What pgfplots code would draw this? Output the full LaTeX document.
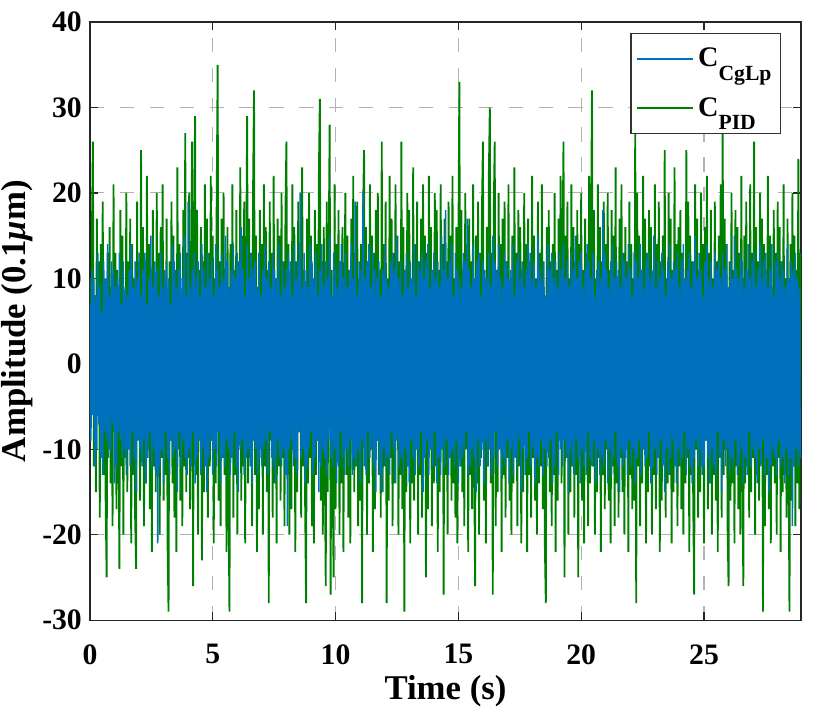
\documentclass[border=0pt]{standalone}
\usepackage{pgfplots}
\usepackage{pgfplotstable}
\pgfplotsset{compat=1.18}
\usepackage{fontspec}
\setmainfont{Liberation Serif}
\definecolor{mblue}{rgb}{0,0.447,0.741}
\definecolor{mgreen}{rgb}{0,0.5,0}

% PID response (green), one value every 0.04 s
\pgfplotstableread[row sep=\\]{
y\\
10\\-7\\15\\26\\-12\\8\\-15\\17\\-4\\12\\-18\\14\\-9\\19\\-13\\6\\-16\\-25\\13\\-10\\
16\\-14\\9\\-19\\21\\-8\\13\\-17\\11\\-6\\-24\\18\\-12\\15\\-20\\7\\-11\\20\\-15\\12\\
-9\\17\\-21\\14\\-13\\10\\-18\\-24\\19\\-7\\12\\-16\\25\\-11\\16\\-19\\8\\-14\\22\\-10\\
14\\-17\\11\\-22\\18\\-12\\9\\-15\\20\\-8\\13\\-20\\16\\-11\\21\\-16\\10\\-13\\17\\-21\\
-29\\12\\-9\\19\\-14\\15\\-18\\11\\-22\\23\\-10\\14\\-16\\8\\-19\\18\\-12\\27\\-15\\13\\
-11\\20\\-17\\9\\26\\-26\\14\\29\\-13\\18\\-20\\11\\-8\\16\\-23\\12\\-15\\21\\-10\\17\\
-18\\13\\-12\\22\\-9\\15\\-21\\10\\-14\\19\\35\\-16\\12\\-19\\17\\-11\\20\\-13\\9\\-22\\
16\\-15\\-29\\14\\-10\\21\\-18\\11\\-13\\18\\-20\\12\\-8\\23\\-16\\15\\-12\\19\\-21\\10\\
29\\-14\\17\\-11\\13\\-19\\20\\32\\-13\\15\\-22\\9\\-17\\18\\-10\\14\\-20\\21\\-12\\16\\
-15\\11\\-28\\19\\-9\\13\\-18\\22\\-14\\10\\-21\\17\\-12\\15\\-16\\20\\-11\\12\\-19\\18\\
26\\-13\\14\\-20\\9\\-17\\21\\-10\\16\\-22\\12\\-15\\19\\-8\\13\\-18\\23\\-12\\11\\-16\\
-28\\17\\-14\\20\\-11\\15\\-19\\10\\-21\\18\\-13\\14\\-9\\22\\31\\-16\\12\\-20\\16\\-10\\
-26\\19\\-15\\13\\28\\-27\\11\\-12\\-25\\21\\-17\\14\\-10\\18\\-20\\12\\-14\\16\\-22\\9\\
20\\-13\\15\\-18\\11\\-21\\17\\-9\\22\\-15\\13\\-12\\19\\-19\\10\\-16\\14\\-28\\18\\25\\
-11\\16\\-20\\12\\-14\\21\\-10\\15\\-22\\13\\-17\\18\\-9\\20\\-13\\11\\-18\\26\\-15\\14\\
-12\\19\\-28\\10\\-16\\22\\-11\\17\\-19\\13\\-14\\21\\-8\\15\\-20\\12\\-13\\26\\-17\\16\\
-29\\11\\-15\\20\\-12\\18\\-21\\9\\-14\\23\\-16\\14\\-10\\19\\-20\\12\\-13\\17\\-18\\21\\
-11\\15\\-25\\13\\-17\\22\\-9\\16\\-19\\10\\-14\\20\\-12\\18\\-22\\11\\-15\\21\\-10\\14\\
-27\\17\\-13\\12\\-20\\19\\-11\\15\\-16\\22\\-14\\10\\-18\\16\\-21\\13\\33\\-12\\18\\-15\\
11\\-19\\20\\-10\\14\\-22\\17\\-13\\12\\-17\\21\\-9\\-26\\15\\-14\\19\\-20\\13\\-11\\18\\
26\\-16\\10\\-21\\16\\-12\\22\\30\\-14\\13\\-27\\18\\26\\-19\\11\\-15\\20\\-10\\14\\-22\\
17\\-13\\19\\-18\\12\\-11\\21\\-16\\9\\-20\\15\\-14\\23\\-10\\13\\-19\\18\\-12\\16\\-21\\
11\\-15\\20\\-9\\14\\-22\\17\\-13\\12\\-18\\22\\-11\\15\\-16\\10\\-20\\19\\-14\\13\\-12\\
21\\-17\\9\\-21\\-28\\16\\-10\\18\\-15\\12\\-19\\14\\-13\\20\\-22\\11\\-16\\17\\-9\\22\\
-14\\13\\26\\-25\\15\\-11\\19\\-20\\10\\-15\\21\\-12\\16\\-18\\12\\-13\\18\\-25\\14\\-10\\
20\\-16\\11\\-21\\17\\-9\\13\\-19\\22\\-14\\15\\32\\-12\\18\\-20\\10\\-15\\21\\-11\\16\\
-22\\12\\-13\\19\\-17\\14\\-10\\20\\-16\\11\\-21\\18\\-12\\15\\-19\\23\\-14\\9\\-18\\17\\
-11\\21\\-15\\13\\-20\\16\\-9\\12\\-22\\19\\-13\\14\\-17\\10\\-16\\28\\-28\\20\\-12\\15\\
-19\\11\\-14\\22\\-10\\17\\-21\\13\\-15\\18\\-12\\16\\-20\\9\\-13\\21\\-17\\14\\-11\\19\\
-22\\12\\-16\\15\\-9\\25\\-18\\10\\-14\\20\\-13\\17\\-21\\11\\-15\\23\\-10\\14\\-19\\16\\
-12\\18\\-17\\13\\-20\\10\\-14\\25\\-11\\19\\-22\\15\\-13\\12\\-16\\-27\\21\\-10\\17\\-18\\
11\\-15\\20\\-12\\14\\-21\\16\\-9\\22\\-17\\13\\-14\\18\\-20\\10\\-13\\19\\-16\\12\\-22\\
15\\-11\\21\\-18\\28\\-13\\17\\-10\\14\\-19\\-26\\12\\-16\\20\\-14\\11\\-21\\18\\-12\\16\\
-17\\13\\-20\\22\\-9\\-26\\15\\-14\\19\\-12\\10\\-18\\21\\-15\\13\\-11\\26\\-20\\16\\-13\\
12\\-16\\20\\-10\\17\\-29\\14\\-19\\11\\-13\\22\\-17\\15\\-21\\9\\-12\\18\\-14\\13\\-20\\
19\\-11\\16\\-22\\12\\-15\\21\\-13\\10\\-18\\17\\-10\\-29\\14\\-16\\20\\-12\\15\\-19\\11\\
-14\\24\\-17\\13\\
}\greendata

% CgLp response (blue), one value every 0.04 s
\pgfplotstableread[row sep=\\]{
y\\
7\\-9\\11\\-6\\10\\-12\\8\\-10\\13\\-7\\9\\-11\\6\\-13\\12\\-8\\10\\-9\\14\\-11\\
8\\-10\\12\\-7\\11\\-14\\9\\-12\\10\\-8\\13\\-9\\7\\-11\\12\\-10\\9\\-13\\8\\-10\\
11\\-12\\14\\-8\\9\\-11\\12\\-15\\10\\-9\\13\\-10\\8\\-12\\11\\-9\\13\\-14\\7\\-11\\
10\\-8\\15\\-12\\9\\-10\\12\\-13\\11\\-21\\8\\-12\\13\\-10\\9\\-14\\11\\-8\\12\\-11\\
10\\-13\\7\\-9\\14\\-11\\12\\-10\\9\\-15\\11\\-8\\13\\-12\\10\\-9\\15\\-11\\8\\-13\\
19\\-10\\9\\-12\\11\\-8\\13\\-14\\10\\-11\\12\\-9\\8\\-13\\14\\-10\\11\\-12\\9\\-15\\
13\\-11\\10\\-9\\12\\-13\\8\\-10\\14\\-12\\11\\-8\\9\\-14\\13\\-11\\10\\-12\\15\\-9\\
12\\-10\\9\\-13\\11\\-11\\14\\-8\\10\\-12\\13\\-15\\12\\-10\\16\\-9\\11\\-13\\8\\-11\\
14\\-10\\10\\-12\\13\\-14\\11\\-9\\12\\-10\\9\\-13\\13\\-11\\8\\-12\\11\\-10\\14\\-9\\
10\\-13\\12\\-8\\9\\-11\\13\\-12\\11\\-14\\10\\-9\\14\\-11\\8\\-12\\12\\-10\\9\\-13\\
11\\-19\\13\\-10\\12\\-9\\8\\-12\\14\\-11\\10\\-13\\12\\-8\\20\\-11\\9\\-10\\13\\-14\\
11\\-12\\9\\-10\\14\\-8\\12\\-13\\10\\-11\\13\\-9\\8\\-15\\11\\-12\\14\\-10\\9\\-11\\
12\\-13\\10\\-9\\15\\-11\\8\\-12\\13\\-10\\11\\-14\\9\\-12\\12\\-8\\14\\-11\\10\\-13\\
13\\-10\\9\\-12\\11\\-9\\14\\-13\\10\\-11\\19\\-12\\8\\-10\\12\\-14\\11\\-9\\20\\-12\\
10\\-13\\12\\-8\\14\\-11\\9\\-10\\13\\-12\\11\\-15\\10\\-9\\12\\-13\\8\\-15\\11\\-10\\
14\\-12\\10\\-11\\9\\-13\\12\\-8\\13\\-10\\11\\-14\\15\\-9\\10\\-12\\12\\-11\\8\\-13\\
11\\-10\\13\\-12\\9\\-14\\12\\-9\\10\\-11\\14\\-13\\8\\-10\\12\\-12\\11\\-8\\13\\-15\\
10\\-11\\12\\-9\\14\\-13\\9\\-10\\11\\-12\\13\\-8\\10\\-14\\12\\-11\\9\\-13\\15\\-10\\
11\\-12\\18\\-9\\10\\-13\\12\\-11\\14\\-10\\8\\-12\\13\\-9\\11\\-14\\10\\-12\\9\\-11\\
13\\-10\\12\\-8\\17\\-13\\11\\-12\\9\\-10\\14\\-11\\10\\-15\\12\\-9\\13\\-12\\8\\-10\\
12\\-14\\11\\-9\\10\\-12\\13\\-10\\9\\-13\\15\\-11\\12\\-8\\11\\-12\\14\\-10\\10\\-13\\
9\\-11\\13\\-12\\12\\-9\\10\\-14\\11\\-10\\14\\-13\\8\\-11\\12\\-12\\13\\-9\\10\\-15\\
12\\-10\\9\\-13\\11\\-11\\14\\-8\\13\\-12\\10\\-10\\12\\-14\\9\\-11\\15\\-12\\11\\-9\\
10\\-13\\12\\-10\\8\\-12\\14\\-11\\11\\-9\\13\\-14\\10\\-12\\12\\-8\\9\\-13\\13\\-10\\
11\\-12\\14\\-9\\10\\-11\\12\\-15\\9\\-10\\13\\-12\\11\\-13\\15\\-9\\10\\-11\\12\\-14\\
13\\-10\\9\\-12\\11\\-13\\14\\-8\\12\\-11\\10\\-12\\13\\-9\\8\\-14\\11\\-10\\12\\-13\\
10\\-11\\18\\-12\\13\\-9\\11\\-14\\9\\-10\\12\\-13\\14\\-11\\10\\-8\\12\\-12\\11\\-15\\
9\\-10\\13\\-12\\12\\-11\\10\\-13\\14\\-9\\11\\-12\\8\\-10\\13\\-14\\12\\-11\\10\\-9\\
14\\-13\\11\\-10\\9\\-12\\12\\-11\\13\\-8\\10\\-14\\11\\-12\\15\\-10\\9\\-13\\12\\-11\\
10\\-9\\13\\-12\\11\\-15\\8\\-10\\12\\-13\\14\\-11\\10\\-9\\12\\-12\\11\\-14\\13\\-10\\
9\\-12\\12\\-11\\14\\-8\\10\\-13\\11\\-10\\13\\-12\\9\\-14\\12\\-11\\15\\-9\\10\\-12\\
13\\-10\\11\\-13\\8\\-12\\12\\-9\\14\\-11\\10\\-14\\12\\-10\\9\\-12\\13\\-13\\11\\-8\\
12\\-11\\10\\-15\\13\\-9\\11\\-12\\14\\-10\\9\\-13\\12\\-11\\10\\-12\\15\\-9\\11\\-13\\
10\\-12\\13\\-10\\12\\-14\\9\\-11\\11\\-13\\14\\-8\\10\\-12\\12\\-10\\13\\-11\\9\\-14\\
11\\-10\\14\\-12\\10\\-9\\12\\-13\\13\\-11\\9\\-15\\11\\-12\\14\\-10\\8\\-11\\12\\-13\\
13\\-9\\10\\-12\\12\\-11\\11\\-14\\9\\-10\\14\\-13\\10\\-11\\12\\-19\\11\\-12\\13\\-10\\
10\\-12\\9\\-11\\
}\bluedata

\begin{document}
\begin{tikzpicture}
\begin{axis}[
  name=ax,
  width=309.1pt, height=260pt, scale only axis,
  xmin=0, xmax=28.95, ymin=-30, ymax=40,
  xtick={0,5,10,15,20,25},
  xticklabels={0,5,10,15,20,25},
  ytick={-30,-20,-10,0,10,20,30,40},
  yticklabels={-30,-20,-10,0,10,20,30,40},
  tick label style={font=\fontsize{12.9}{14}\selectfont\bfseries},
  xticklabel style={yshift=-7pt},
  tick align=inside, major tick length=3.5pt,
  every tick/.style={black!85, line width=0.5pt},
  axis line style={black!85, line width=0.5pt},
  grid=major,
  major grid style={gray!60, line width=0.45pt, dash pattern=on 6.2pt off 6.8pt},
  xlabel={Time (s)},
  xlabel style={yshift=2pt},
  ylabel={Amplitude (0.1{\itshape μ}m)},
  ylabel style={yshift=-3pt},
  label style={font=\fontsize{15.1}{17}\selectfont\bfseries},
  legend style={at={(axis description cs:0.9722,0.9815)}, anchor=north east,
    draw=black!80, line width=0.5pt, fill=white,
    font=\fontsize{12.3}{14}\selectfont\bfseries,
    cells={anchor=west}, inner xsep=2pt, inner ysep=4pt, row sep=8pt},
  legend image code/.code={\draw[#1, line width=0.9pt] (0pt,0pt) -- (24.3pt,0pt);},
]
\addplot[mgreen, line width=0.8pt, forget plot] table[x expr=\coordindex*0.04, y=y]{\greendata};
\addplot[mblue, line width=0.65pt, forget plot] table[x expr=\coordindex*0.04, y=y]{\bluedata};
\addlegendimage{mblue}
\addlegendentry{C\raisebox{-6pt}[\height][0.8pt]{\fontsize{9.4}{11}\selectfont CgLp}}
\addlegendimage{mgreen}
\addlegendentry{C\raisebox{-6pt}[\height][0.8pt]{\fontsize{9.4}{11}\selectfont PID}}
\end{axis}
\pgfresetboundingbox
\path ([xshift=-39.1pt,yshift=-37.8pt]ax.south west) rectangle ([xshift=12.6pt,yshift=9.6pt]ax.north east);
\end{tikzpicture}
\end{document}
